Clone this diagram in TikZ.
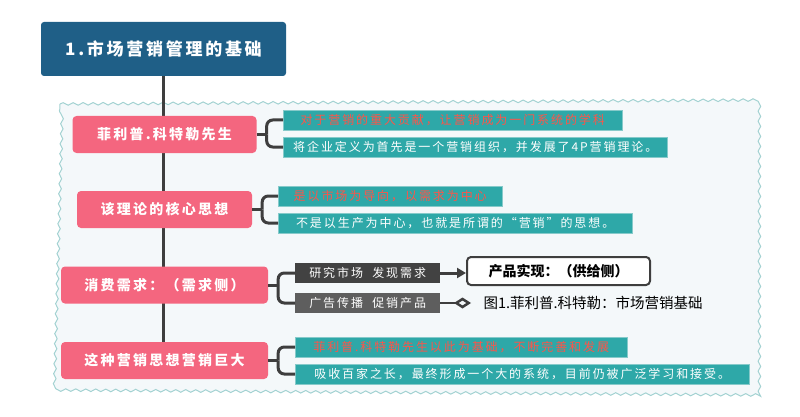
\documentclass[tikz,border=0pt]{standalone}
\usepackage{fontspec}
\setmainfont{Noto Sans CJK SC}
\newfontfamily\spfont{Noto Sans CJK SC}[LetterSpace=16]
\usetikzlibrary{decorations.pathmorphing,arrows.meta}
\definecolor{titleblue}{HTML}{1F5F87}
\definecolor{topicpink}{HTML}{F4667F}
\definecolor{leafteal}{HTML}{2EA8A8}
\definecolor{leafedge}{HTML}{86CACA}
\definecolor{leafred}{HTML}{FF5448}
\definecolor{linegray}{HTML}{3E3E3E}
\definecolor{darkleaf}{HTML}{424242}
\definecolor{wavebg}{HTML}{F4F8FA}
\definecolor{waveline}{HTML}{A3D2D2}
\begin{document}
\begin{tikzpicture}[x=1pt,y=-1pt]
	\tikzstyle{trunk} = [draw=linegray, line width=3pt];
	\tikzstyle{headbox} = [fill=titleblue, rounded corners=3pt, text=white, font=\spfont\bfseries\fontsize{17}{20}\selectfont, minimum width=245pt, minimum height=54pt];
	\tikzstyle{topic} = [fill=topicpink, rounded corners=4pt, text=white, font=\spfont\bfseries\fontsize{14}{16}\selectfont, minimum height=37pt];
	\tikzstyle{leaf} = [draw=leafedge, fill=leafteal, anchor=west, inner xsep=10pt, inner ysep=0pt, minimum height=20pt, font=\spfont\fontsize{12}{14}\selectfont];
	\tikzstyle{darkbox} = [fill=darkleaf, text=white, anchor=west, minimum width=145pt, minimum height=20pt, inner ysep=0pt, font=\spfont\fontsize{12}{14}\selectfont];
	\tikzstyle{supply} = [draw=linegray, line width=2pt, fill=white, rounded corners=4pt, minimum width=183pt, minimum height=28pt, font=\bfseries\fontsize{14}{16}\selectfont];
	\useasboundingbox (0,0) rectangle (800,417);
	% wavy background
	\draw[waveline, fill=wavebg, line width=1pt, decorate, decoration={snake, amplitude=1.3pt, segment length=10pt}]
		(60,104) -- (758,100) -- (758,393) -- (52,388) -- cycle;
	% title and topics
	\node[headbox] (title) at (163.5,49) {1.市场营销管理的基础};
	\coordinate (trunkend) at (163.5,360.5);
	\draw[trunk] (title.south) -- (trunkend);
	\foreach \name/\y/\w/\txt in {p1/134.5/184/菲利普.科特勒先生, p2/209.5/175/该理论的核心思想, p3/285/207/消费需求：（需求侧）, p4/360.5/207/这种营销思想营销巨大}
	{
		\node[topic, minimum width=\w pt] (\name) at (164.5,\y) {\txt};
	}
	% leaves
	\node[leaf, text=leafred, minimum width=339pt] (a1) at (283,120) {对于营销的重大贡献，让营销成为一门系统的学科};
	\node[leaf, text=white, minimum width=369pt] (a2) at (283,147) {将企业定义为首先是一个营销组织，并发展了4P营销理论。};
	\node[leaf, text=leafred, minimum width=224pt] (b1) at (278,196) {是以市场为导向，以需求为中心};
	\node[leaf, text=white, minimum width=354pt] (b2) at (278,223) {不是以生产为中心，也就是所谓的“营销”的思想。};
	\node[darkbox] (c1) at (295,273) {研究市场\ \ 发现需求};
	\node[darkbox, fill=darkleaf!85!white] (c2) at (295,303) {广告传播\ \ 促销产品};
	\node[leaf, text=leafred, minimum width=332pt] (d1) at (295,347) {菲利普.科特勒先生以此为基础，不断完善和发展};
	\node[leaf, text=white, minimum width=454pt] (d2) at (295,374) {吸收百家之长，最终形成一个大的系统，目前仍被广泛学习和接受。};
	\node[supply] (prod) at (558.5,271) {产品实现：（供给侧）};
	\node[anchor=west, font=\fontsize{14.5}{16}\selectfont] (note) at (480,303) {图1.菲利普.科特勒：市场营销基础};
	% connectors
	\foreach \p/\u/\v in {p1/a1/a2, p2/b1/b2, p3/c1/c2, p4/d1/d2}
	{
		\coordinate (j\p) at ([xshift=10pt]\p.east);
		\draw[trunk] (\p.east) -- (j\p);
		\draw[trunk, rounded corners=6pt] (j\p) |- (\u.west);
		\draw[trunk, rounded corners=6pt] (j\p) |- (\v.west);
	}
	\draw[trunk, -{Triangle[length=9pt,width=10pt]}] (c1.east) -- (c1.east -| prod.west);
	\draw[draw=linegray, line width=2.5pt, -{Diamond[open,length=17pt,width=11pt]}, shorten >=9pt] (c2.east) -- (note.west);
\end{tikzpicture}
\end{document}
